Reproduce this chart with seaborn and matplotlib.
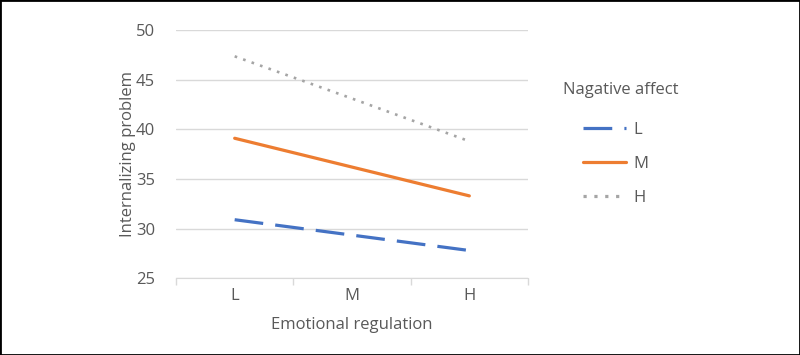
import pandas as pd
import matplotlib
matplotlib.use("Agg")
import matplotlib.pyplot as plt
import seaborn as sns

# data
regulation = ["L", "M", "H"]
affect_levels = ["L", "M", "H"]
low_affect = [30.9, 29.35, 27.8]
mid_affect = [39.1, 36.2, 33.3]
high_affect = [47.35, 43.1, 38.8]

df = pd.DataFrame({
    "Emotional regulation": regulation * 3,
    "Nagative affect": [a for a in affect_levels for _ in regulation],
    "Internalizing problem": low_affect + mid_affect + high_affect,
})

sns.set_style("white")
plt.rcParams["font.family"] = ["Open Sans", "DejaVu Sans"]
text_col = "#595959"
fs = 12

fig = plt.figure(figsize=(8, 3.55), dpi=100)
ax = fig.add_axes([0.22, 0.216, 0.44, 0.6995])

palette = {"L": "#4472C4", "M": "#ED7D31", "H": "#A5A5A5"}
dashes = {"L": (9, 3.8), "M": "", "H": (1, 2.4)}
sns.lineplot(data=df, x="Emotional regulation", y="Internalizing problem",
             hue="Nagative affect", style="Nagative affect",
             palette=palette, dashes=dashes, sort=False, ax=ax,
             linewidth=2.3, legend=True)
ax.lines[2].set_linewidth(1.9)

ax.set_ylim(25, 50)
ax.set_yticks([25, 30, 35, 40, 45, 50])
ax.set_xlim(-0.5, 2.5)
ax.grid(axis="y", color="#d9d9d9", linewidth=1)
ax.set_axisbelow(True)
for s in ["top", "right", "left"]:
    ax.spines[s].set_visible(False)
ax.spines["bottom"].set_color("#d9d9d9")

ax.set_xticks([-0.5, 0.5, 1.5, 2.5], minor=True)
ax.tick_params(axis="x", which="minor", length=5, color="#d9d9d9", width=1, direction="out", bottom=True)
ax.tick_params(axis="x", which="major", length=0, pad=7, labelsize=fs, labelcolor=text_col)
ax.tick_params(axis="y", length=0, pad=15, labelsize=fs, labelcolor=text_col)

ax.set_xlabel("Emotional regulation", fontsize=fs, color=text_col, labelpad=9)
ax.set_ylabel("Internalizing problem", fontsize=fs, color=text_col, labelpad=0)

handles, labels = ax.get_legend_handles_labels()
ax.get_legend().remove()
fig.text(563 / 800, 1 - 90 / 355, "Nagative affect", fontsize=fs, color=text_col,
         ha="left", va="center")
fig.legend(handles, labels, frameon=False, loc="upper left",
           bbox_to_anchor=(583 / 800, 1 - 122 / 355), bbox_transform=fig.transFigure,
           fontsize=fs, labelcolor=text_col, handlelength=2.6, handletextpad=0.4,
           labelspacing=1.08, borderpad=0, borderaxespad=0)

fig.patches.append(plt.Rectangle((0, 0), 1, 1, transform=fig.transFigure,
                                 fill=False, edgecolor="black", linewidth=2))

fig.savefig("out.png", dpi=100)
